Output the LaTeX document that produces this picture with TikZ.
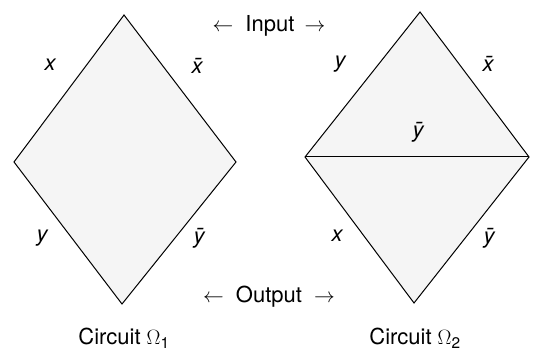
\documentclass[tikz,border=0pt]{standalone}
\usepackage{fontspec}
\setmainfont{TeX Gyre Heros}
\begin{document}
\begin{tikzpicture}[x=1pt,y=-1pt,
  edge/.style={line width=1pt, black},
  lbl/.style={font=\fontsize{22}{26}\selectfont\itshape, inner sep=0pt},
  txt/.style={font=\fontsize{22}{26}\selectfont, inner sep=0pt}]
\useasboundingbox (0,0) rectangle (534,352);
% left diamond
\coordinate (aT) at (124,15);
\coordinate (aL) at (14,162);
\coordinate (aR) at (236,162);
\coordinate (aB) at (122,304);
\fill[black!4] (aT) -- (aR) -- (aB) -- (aL) -- cycle;
\draw[edge] (aT) -- (aR) -- (aB) -- (aL) -- cycle;
% right diamond
\coordinate (bT) at (420,12);
\coordinate (bL) at (305,157);
\coordinate (bR) at (529,157);
\coordinate (bB) at (414,303);
\fill[black!4] (bT) -- (bR) -- (bB) -- (bL) -- cycle;
\draw[edge] (bT) -- (bR) -- (bB) -- (bL) -- cycle;
\draw[edge] (bL) -- (bR);
% labels left
\node[lbl] (l1) at (50,65) {x};
\node[lbl] (l2) at (197,66) {\=x};
\node[lbl] (l3) at (42,238) {y};
\node[lbl] (l4) at (199,238) {\=y};
% labels right
\node[lbl] (r1) at (340,64) {y};
\node[lbl] (r2) at (488,64) {\=x};
\node[lbl] (r3) at (418,132) {\=y};
\node[lbl] (r4) at (337,236) {x};
\node[lbl] (r5) at (489,238) {\=y};
% input/output
\node[txt] (inp) at (269,26) {$\leftarrow$\hspace{12pt}Input\hspace{10pt}$\rightarrow$};
\node[txt] (outp) at (269,297) {$\leftarrow$\hspace{12pt}Output\hspace{12pt}$\rightarrow$};
% captions
\node[txt] (c1) at (124,338) {Circuit $\Omega$\textsubscript{1}};
\node[txt] (c2) at (415,338) {Circuit $\Omega$\textsubscript{2}};
\end{tikzpicture}
\end{document}
